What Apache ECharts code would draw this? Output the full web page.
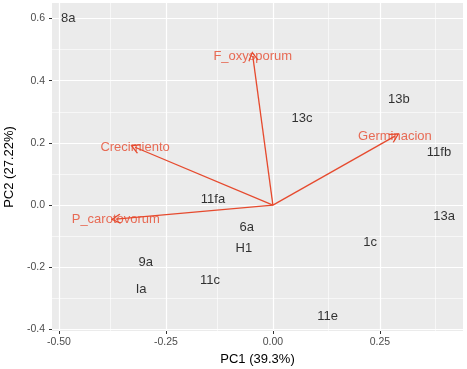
<!DOCTYPE html>
<html>
<head>
<meta charset="utf-8">
<script src="https://cdn.jsdelivr.net/npm/echarts@6/dist/echarts.min.js"></script>
<style>
html,body{margin:0;padding:0;background:#fff;}
#chart{width:467px;height:369px;}
</style>
</head>
<body>
<div id="chart"></div>
<script>
// muestras (scores)
var sampleNames = ['8a','13c','13b','11fb','13a','1c','11fa','6a','H1','9a','Ia','11c','11e'];
var sampleX = [-0.478, 0.068, 0.294, 0.388, 0.400, 0.227, -0.140, -0.061, -0.068, -0.297, -0.308, -0.147, 0.128];
var sampleY = [0.601, 0.280, 0.341, 0.170, -0.035, -0.119, 0.019, -0.071, -0.138, -0.183, -0.270, -0.241, -0.357];

// variables (loadings)
var varNames = ['F_oxysporum','Crecimiento','P_carotovorum','Germinacion'];
var varX = [-0.047, -0.322, -0.367, 0.285];
var varY = [0.479, 0.186, -0.045, 0.222];

// ejes
var xTicks = [-0.5, -0.25, 0, 0.25];
var xMinor = [-0.375, -0.125, 0.125, 0.375];
var yTicks = [-0.4, -0.2, 0, 0.2, 0.4, 0.6];
var yMinor = [-0.3, -0.1, 0.1, 0.3, 0.5];

var red = '#E64A2E';

function fmtX(v){ return v.toFixed(2); }
function fmtY(v){ return v.toFixed(1); }

var gridLines = [];
xTicks.forEach(function(v){ gridLines.push({xAxis: v, lineStyle:{width:1.2}}); });
xMinor.forEach(function(v){ gridLines.push({xAxis: v, lineStyle:{width:0.6}}); });
yTicks.forEach(function(v){ gridLines.push({yAxis: v, lineStyle:{width:1.2}}); });
yMinor.forEach(function(v){ gridLines.push({yAxis: v, lineStyle:{width:0.6}}); });

var samples = [];
for (var i = 0; i < sampleNames.length; i++) {
  samples.push([sampleX[i], sampleY[i], sampleNames[i]]);
}
var arrows = [], varLabels = [];
for (var j = 0; j < varNames.length; j++) {
  arrows.push({coords: [[0, 0], [varX[j], varY[j]]]});
  varLabels.push([varX[j], varY[j], varNames[j]]);
}

var myChart = echarts.init(document.getElementById('chart'));
var option = {
  animation: false,
  grid: {left: 52, right: 4, top: 3, bottom: 38, outerBoundsMode: 'none', containLabel: false,
         show: true, backgroundColor: '#EBEBEB', borderWidth: 0},
  xAxis: {
    type: 'value', min: -0.516, max: 0.444,
    name: 'PC1 (39.3%)', nameLocation: 'middle', nameGap: 21,
    nameTextStyle: {color: '#000', fontSize: 13, fontFamily: 'Liberation Sans'},
    axisLine: {show: true, onZero: false, lineStyle: {color: 'rgba(0,0,0,0)'}},
    axisTick: {show: true, customValues: xTicks, length: 3, lineStyle: {color: '#333'}},
    axisLabel: {customValues: xTicks, formatter: fmtX, color: '#4D4D4D', fontSize: 10.5,
                fontFamily: 'Liberation Sans', margin: 6},
    splitLine: {show: false}
  },
  yAxis: {
    type: 'value', min: -0.405, max: 0.650,
    name: 'PC2 (27.22%)', nameLocation: 'middle', nameGap: 35,
    nameTextStyle: {color: '#000', fontSize: 13, fontFamily: 'Liberation Sans'},
    axisLine: {show: true, onZero: false, lineStyle: {color: 'rgba(0,0,0,0)'}},
    axisTick: {show: true, customValues: yTicks, length: 3, lineStyle: {color: '#333'}},
    axisLabel: {customValues: yTicks, formatter: fmtY, color: '#4D4D4D', fontSize: 10.5,
                fontFamily: 'Liberation Sans', margin: 7},
    splitLine: {show: false}
  },
  series: [
    {
      type: 'scatter', symbolSize: 0, data: [], silent: true, z: 0,
      markLine: {
        silent: true, z: 0, symbol: ['none','none'], label: {show: false},
        lineStyle: {color: '#fff', type: 'solid'},
        data: gridLines
      }
    },
    {
      type: 'lines', coordinateSystem: 'cartesian2d', silent: true,
      symbol: ['none', 'path://M0,0 L6,9 L5,10 L0,2.5 L-5,10 L-6,9 Z'], symbolSize: [11, 10],
      lineStyle: {color: red, width: 1.3, opacity: 1},
      data: arrows, z: 3
    },
    {
      type: 'scatter', symbolSize: 0, data: samples, z: 4,
      label: {show: true, position: 'inside', formatter: function(p){ return p.data[2]; },
              color: '#000', fontSize: 13, fontFamily: 'Liberation Sans'}
    },
    {
      type: 'scatter', symbolSize: 0, data: varLabels, z: 5,
      label: {show: true, position: 'inside', formatter: function(p){ return p.data[2]; },
              color: red, fontSize: 13, fontFamily: 'Liberation Sans'}
    }
  ]
};
myChart.setOption(option);
</script>
</body>
</html>
